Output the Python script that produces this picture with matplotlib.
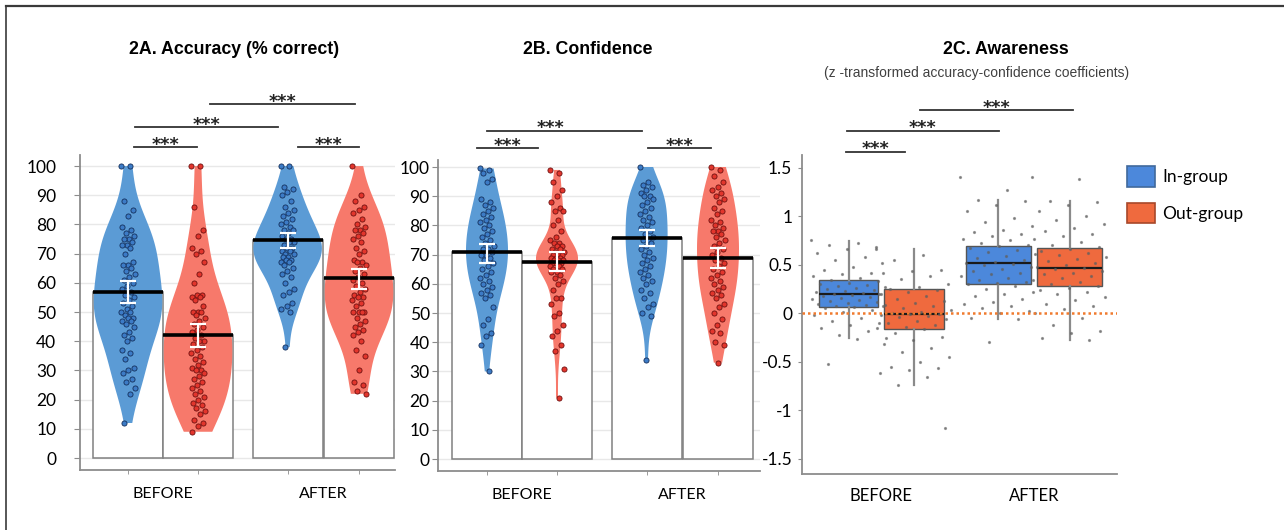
import matplotlib.pyplot as plt
import numpy as np
from matplotlib.lines import Line2D
from matplotlib.patches import Patch

plt.rcParams['font.family'] = ['Lato', 'DejaVu Sans']

groups = ['BEFORE', 'AFTER']
series = ['In-group', 'Out-group']

# 2A. accuracy (% correct) - individual scores per bar
acc_in_before = [100, 100, 88, 85, 83, 79, 78, 77, 76, 75, 75, 74, 73, 73, 72, 70, 67, 66, 66, 65,
                 64, 63, 62, 61, 60, 59, 58, 57, 56, 55, 54, 53, 52, 51, 50, 50, 49, 48, 48, 47,
                 47, 46, 45, 43, 42, 41, 40, 37, 36, 34, 31, 30, 29, 27, 26, 24, 22, 12]
acc_out_before = [100, 100, 86, 78, 76, 72, 71, 70, 67, 63, 60, 56, 56, 55, 55, 54, 52, 50, 50, 50,
                  49, 48, 47, 46, 45, 44, 43, 42, 41, 40, 40, 39, 38, 37, 36, 35, 34, 33, 32, 31,
                  30, 30, 29, 28, 27, 26, 25, 24, 23, 22, 21, 20, 19, 18, 17, 16, 15, 13, 12, 11, 9]
acc_in_after = [100, 100, 93, 92, 91, 90, 88, 86, 85, 84, 83, 82, 81, 80, 79, 78, 78, 77, 76, 75,
                75, 74, 74, 73, 72, 72, 71, 71, 70, 70, 69, 69, 68, 68, 67, 67, 66, 65, 64, 63,
                62, 60, 58, 57, 56, 53, 52, 51, 50, 38]
acc_out_after = [100, 90, 88, 86, 85, 84, 82, 80, 79, 78, 78, 77, 76, 75, 74, 72, 71, 70, 68, 67,
                 67, 66, 65, 64, 63, 62, 61, 60, 59, 58, 57, 56, 55, 55, 54, 53, 52, 50, 50, 50,
                 50, 48, 47, 46, 45, 44, 43, 42, 40, 37, 35, 30, 26, 25, 23, 22]
acc_mean = [56.8, 42.0, 74.6, 61.7]
acc_ci_low = [53.2, 38.0, 72.0, 58.0]
acc_ci_high = [60.5, 45.8, 77.0, 64.6]

# 2B. confidence
conf_in_before = [99.5, 99, 98, 96, 95, 89, 88, 87, 86, 85, 84, 83, 82, 81, 80, 79, 78, 77, 76, 75,
                  74, 73, 72, 72, 71, 70, 70, 69, 68, 67, 66, 65, 64, 63, 62, 61, 60, 59, 58, 57,
                  56, 55, 52, 48, 46, 43, 42, 39, 30]
conf_out_before = [99, 98, 95, 92, 90, 88, 86, 85, 85, 82, 80, 78, 76, 75, 74, 74, 73, 73, 72, 72,
                   71, 71, 70, 70, 70, 69, 69, 69, 68, 68, 68, 67, 67, 67, 66, 66, 65, 65, 64, 64,
                   63, 62, 61, 60, 58, 55, 55, 53, 50, 49, 46, 44, 42, 39, 37, 31, 21]
conf_in_after = [100, 95, 94, 93, 92, 91, 90, 90, 89, 88, 87, 86, 85, 84, 83, 82, 81, 80, 79, 78,
                 77, 76, 75, 75, 74, 73, 72, 71, 70, 69, 68, 67, 66, 65, 64, 63, 62, 61, 60, 58,
                 57, 55, 53, 52, 50, 49, 34]
conf_out_after = [100, 99, 97, 95, 93, 92, 91, 90, 89, 88, 86, 85, 84, 82, 81, 80, 79, 78, 78, 77,
                  76, 75, 74, 73, 72, 71, 70, 69, 68, 67, 66, 65, 64, 63, 62, 61, 60, 59, 58, 57,
                  56, 55, 53, 52, 50, 48, 46, 44, 43, 40, 39, 33]
conf_mean = [70.8, 67.6, 75.8, 68.8]
conf_ci_low = [67.0, 64.5, 72.8, 65.4]
conf_ci_high = [73.8, 70.8, 78.4, 72.4]

# 2C. awareness (z-transformed coefficients)
aw_in_before = [0.75, 0.72, 0.70, 0.68, 0.66, 0.62, 0.58, 0.55, 0.52, 0.48, 0.45, 0.42, 0.40, 0.38,
                0.36, 0.34, 0.33, 0.31, 0.30, 0.29, 0.28, 0.27, 0.26, 0.25, 0.24, 0.23, 0.22, 0.21,
                0.20, 0.20, 0.19, 0.18, 0.17, 0.16, 0.15, 0.14, 0.13, 0.12, 0.11, 0.10, 0.09, 0.08,
                0.07, 0.06, 0.05, 0.03, 0.01, -0.02, -0.05, -0.08, -0.10, -0.12, -0.15, -0.18,
                -0.22, -0.25, -0.26, -0.52]
aw_out_before = [0.66, 0.60, 0.55, 0.45, 0.44, 0.42, 0.38, 0.35, 0.30, 0.27, 0.25, 0.24, 0.22, 0.20,
                 0.18, 0.15, 0.13, 0.11, 0.09, 0.07, 0.05, 0.03, 0.01, 0.0, -0.01, -0.01, -0.02,
                 -0.03, -0.04, -0.06, -0.08, -0.10, -0.12, -0.14, -0.15, -0.16, -0.20, -0.24, -0.28,
                 -0.32, -0.36, -0.40, -0.45, -0.50, -0.55, -0.56, -0.58, -0.62, -0.66, -0.74, -1.18]
aw_in_after = [1.40, 1.27, 1.17, 1.16, 1.12, 1.05, 0.98, 0.94, 0.90, 0.86, 0.84, 0.82, 0.80, 0.77,
               0.75, 0.72, 0.70, 0.69, 0.67, 0.65, 0.63, 0.61, 0.59, 0.57, 0.55, 0.53, 0.52, 0.51,
               0.50, 0.48, 0.46, 0.44, 0.42, 0.40, 0.38, 0.36, 0.34, 0.32, 0.31, 0.30, 0.28, 0.25,
               0.22, 0.20, 0.18, 0.15, 0.12, 0.10, 0.08, 0.05, 0.02, 0.0, -0.05, -0.06, -0.30]
aw_out_after = [1.40, 1.38, 1.16, 1.15, 1.12, 1.05, 1.00, 0.96, 0.92, 0.88, 0.85, 0.82, 0.80, 0.76,
                0.73, 0.70, 0.68, 0.66, 0.64, 0.62, 0.60, 0.58, 0.56, 0.54, 0.52, 0.50, 0.48, 0.47,
                0.46, 0.44, 0.42, 0.40, 0.38, 0.36, 0.34, 0.32, 0.30, 0.28, 0.26, 0.24, 0.22, 0.20,
                0.17, 0.14, 0.10, 0.07, 0.04, 0.0, -0.05, -0.12, -0.18, -0.20, -0.25, -0.28]
aw_q1 = [0.06, -0.16, 0.305, 0.278]
aw_median = [0.20, -0.01, 0.515, 0.467]
aw_q3 = [0.34, 0.247, 0.69, 0.676]
aw_whislo = [-0.25, -0.74, -0.055, -0.275]
aw_whishi = [0.745, 0.66, 1.164, 1.157]

yticks_c = [-1.5, -1, -0.5, 0, 0.5, 1, 1.5]
yticklabels_c = ['-1.5', '-1', '-0.5', '0', '0.5', '1', '1.5']

BLUE_V, RED_V = '#5B9BD5', '#F7796B'
BLUE_PT, BLUE_PE = '#3C7BC6', '#14305C'
RED_PT, RED_PE = '#E2352C', '#6E1010'
BLUE_BOX, RED_BOX = '#4C88DB', '#EF6A3E'
GREY = '#8c8c8c'

pos = np.array([0, 1, 2.28, 3.3])


def jitter(n, spread):
    # deterministic horizontal spread for the dots (golden-ratio sequence)
    return ((np.arange(n) * 0.618034) % 1.0 - 0.5) * 2 * spread


def style_axes(ax):
    for s in ['top', 'right']:
        ax.spines[s].set_visible(False)
    for s in ['left', 'bottom']:
        ax.spines[s].set_color(GREY)
        ax.spines[s].set_linewidth(1.3)


def sig(ax, x1, x2, y, tx=None, dy=1.5):
    ax.plot([x1, x2], [y, y], color='#333333', lw=1.3, clip_on=False)
    ax.annotate('***', ((x1 + x2) / 2 if tx is None else tx, y), xytext=(0, dy),
                textcoords='offset points', ha='center', va='center', fontweight='bold',
                fontsize=12.5, color='#222222', family='DejaVu Sans', annotation_clip=False)


def violin_panel(ax, samples, means, lo, hi, vwidth, bws, ylim, pad):
    means, lo, hi = np.array(means), np.array(lo), np.array(hi)
    ax.bar(pos, means, width=1.0, color='white', edgecolor='#808080', lw=1.1, zorder=1)
    for p, vals, c, bw in zip(pos, samples, [BLUE_V, RED_V, BLUE_V, RED_V], bws):
        vp = ax.violinplot([vals], positions=[p], widths=vwidth, showextrema=False, bw_method=bw)
        body = vp['bodies'][0]
        body.set_facecolor(c)
        body.set_edgecolor('none')
        body.set_alpha(1)
        body.set_zorder(2)
    for p, vals, fc, ec in zip(pos, samples, [BLUE_PT, RED_PT] * 2, [BLUE_PE, RED_PE] * 2):
        ax.plot(p + jitter(len(vals), 0.1), vals, 'o', ls='none', ms=3.7,
                mfc=fc, mec=ec, mew=0.6, zorder=3)
    ax.hlines(means, pos - 0.5, pos + 0.5, color='black', lw=2.6, zorder=4)
    ax.errorbar(pos, means, yerr=[means - lo, hi - means], fmt='none', ecolor='white',
                elinewidth=1.6, capsize=6, capthick=1.6, zorder=5)
    ax.set_ylim(*ylim)
    ax.set_yticks(range(0, 101, 10))
    ax.yaxis.grid(True, color='#e8e8e8', lw=1)
    ax.set_axisbelow(True)
    ax.set_xticks([0.5, 2.79])
    ax.set_xticklabels(groups, fontsize=11.5)
    ax.set_xticks(pos, minor=True)
    ax.tick_params(axis='x', which='major', length=0, pad=12)
    ax.tick_params(axis='x', which='minor', length=3, color=GREY)
    ax.tick_params(axis='y', length=4, color=GREY, labelsize=12.5, pad=pad)
    style_axes(ax)


fig = plt.figure(figsize=(12.84, 5.30), dpi=100)
W, H = 1284, 530

# 2A
ax1 = fig.add_axes([80 / W, 1 - 470 / H, 315 / W, 315 / H])
violin_panel(ax1, [acc_in_before, acc_out_before, acc_in_after, acc_out_after],
             acc_mean, acc_ci_low, acc_ci_high, 0.98, ['scott'] * 4, (-4.1, 103.8), 13)
ax1.set_xlim(-0.686, 3.814)
sig(ax1, 0.09, 0.99, 106.5)
sig(ax1, 0.10, 2.14, 113.4)
sig(ax1, 1.17, 3.24, 121.2)
sig(ax1, 2.43, 3.30, 106.5)

# 2B
ax2 = fig.add_axes([438 / W, 1 - 471 / H, 322 / W, 311 / H])
violin_panel(ax2, [conf_in_before, conf_out_before, conf_in_after, conf_out_after],
             conf_mean, conf_ci_low, conf_ci_high, 0.6, ['scott', 0.28, 'scott', 'scott'],
             (-4.1, 102.4), 2)
ax2.set_xlim(-0.7, 3.9)
sig(ax2, -0.14, 0.73, 106.5)
sig(ax2, 2.30, 3.20, 106.5)
sig(ax2, 0.0, 2.21, 112.5, tx=0.9)

# 2C
ax3 = fig.add_axes([802 / W, 1 - 474 / H, 315 / W, 319 / H])
cpos = [0, 1.065, 2.44, 3.6]
stats = [dict(med=m, q1=a, q3=b, whislo=l, whishi=h, fliers=[])
         for m, a, b, l, h in zip(aw_median, aw_q1, aw_q3, aw_whislo, aw_whishi)]
bp = ax3.bxp(stats, positions=cpos, widths=[0.97, 0.97, 1.05, 1.05], showcaps=False,
             patch_artist=True,
             boxprops=dict(edgecolor='#555555', lw=1.0),
             medianprops=dict(color='#1a1a1a', lw=1.6),
             whiskerprops=dict(color='#8a8a8a', lw=1.6))
for box, c in zip(bp['boxes'], [BLUE_BOX, RED_BOX] * 2):
    box.set_facecolor(c)
for p, vals in zip(cpos, [aw_in_before, aw_out_before, aw_in_after, aw_out_after]):
    ax3.plot(p + jitter(len(vals), 0.62), vals, 'o', ls='none', ms=1.3,
             color='#606060', alpha=0.6, zorder=4)
ax3.axhline(0, color='#F07A2E', lw=1.8, ls=(0, (1, 1.2)), zorder=5)
ax3.set_xlim(-0.76, 4.37)
ax3.set_ylim(-1.655, 1.63)
ax3.set_yticks(yticks_c)
ax3.set_yticklabels(yticklabels_c)
ax3.set_xticks([0.53, 3.02])
ax3.set_xticklabels(groups, fontsize=12)
ax3.tick_params(axis='x', length=0, pad=10)
ax3.tick_params(axis='y', length=3, color=GREY, labelsize=12.5, pad=4)
style_axes(ax3)
sig(ax3, -0.05, 0.92, 1.66, dy=2)
sig(ax3, -0.03, 2.45, 1.876, dy=2)
sig(ax3, 1.16, 3.65, 2.09, dy=2)

handles = [Patch(facecolor=BLUE_BOX, edgecolor='#41699C', lw=1.2),
           Patch(facecolor=RED_BOX, edgecolor='#A8482A', lw=1.2)]
fig.legend(handles, series, loc='upper left', bbox_to_anchor=(1127 / W, 1 - 166 / H),
           frameon=False, borderpad=0, borderaxespad=0, fontsize=12.5,
           handlelength=1.6, handleheight=1.45, handletextpad=0.45, labelspacing=0.92)

# titles
tfont = dict(family='Liberation Sans', fontweight='bold', fontsize=12.8, ha='center', va='center')
fig.text(234 / W, 1 - 50 / H, '2A. Accuracy (% correct)', **tfont)
fig.text(588 / W, 1 - 50 / H, '2B. Confidence', **tfont)
fig.text(1006 / W, 1 - 50 / H, '2C. Awareness', **tfont)
fig.text(977 / W, 1 - 73 / H, '(z -transformed accuracy-confidence coefficients)',
         family='Liberation Sans', fontsize=10, color='#404040', ha='center', va='center')

# frame lines at top and left of the picture
fig.add_artist(Line2D([6 / W, 1], [1 - 5.5 / H] * 2, transform=fig.transFigure, color='#3a3a3a', lw=1.6))
fig.add_artist(Line2D([6 / W] * 2, [0, 1 - 5.5 / H], transform=fig.transFigure, color='#3a3a3a', lw=1.2))

fig.savefig('out.png', dpi=100, facecolor='white')
